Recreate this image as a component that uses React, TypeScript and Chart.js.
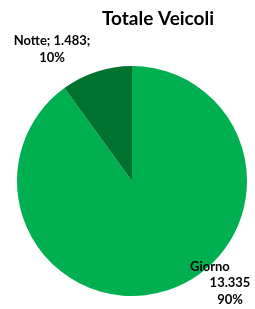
import React, { useEffect, useRef } from "react";
import { Chart, registerables } from "chart.js";

Chart.register(...registerables);

const categories = ["Giorno", "Notte"];
const values = [13335, 1483];
const percents = ["90%", "10%"];
const colors = ["#00B050", "#00722F"];
const titleText = "Totale Veicoli";

function fmt(n: number): string {
  return String(n).replace(/\B(?=(\d{3})+(?!\d))/g, ".");
}

const labelPlugin = {
  id: "labelPlugin",
  afterDraw(chart: any) {
    const ctx = chart.ctx;
    ctx.save();
    ctx.fillStyle = "#000";
    ctx.textBaseline = "middle";
    ctx.textAlign = "center";
    ctx.font = "bold 19px Lato, 'Open Sans', sans-serif";
    ctx.fillText(titleText, 158, 19);
    ctx.font = "bold 13px Lato, 'Open Sans', sans-serif";
    // Notte label
    ctx.fillText(`${categories[1]}; ${fmt(values[1])};`, 52, 41);
    ctx.fillText(percents[1], 52, 58);
    // Giorno label
    ctx.textAlign = "left";
    ctx.fillText(categories[0], 190, 267);
    ctx.textAlign = "center";
    ctx.fillText(fmt(values[0]), 230, 283);
    ctx.fillText(percents[0], 230, 300);
    ctx.restore();
  },
};

export default function App() {
  const ref = useRef<HTMLCanvasElement | null>(null);
  useEffect(() => {
    document.body.style.margin = "0";
    if (!ref.current) return;
    const chart = new Chart(ref.current, {
      type: "pie",
      data: {
        labels: categories,
        datasets: [
          {
            data: values,
            backgroundColor: colors,
            borderWidth: 0,
          },
        ],
      },
      options: {
        animation: false,
        responsive: false,
        layout: { padding: { left: 17, right: 8, top: 66, bottom: 13 } },
        plugins: {
          legend: { display: false },
          title: { display: false },
          tooltip: { enabled: false },
        },
      },
      plugins: [labelPlugin],
    });
    return () => chart.destroy();
  }, []);
  return (
    <div style={{ width: 255, height: 309, background: "#fff" }}>
      <canvas ref={ref} width={255} height={309} style={{ display: "block" }} />
    </div>
  );
}
